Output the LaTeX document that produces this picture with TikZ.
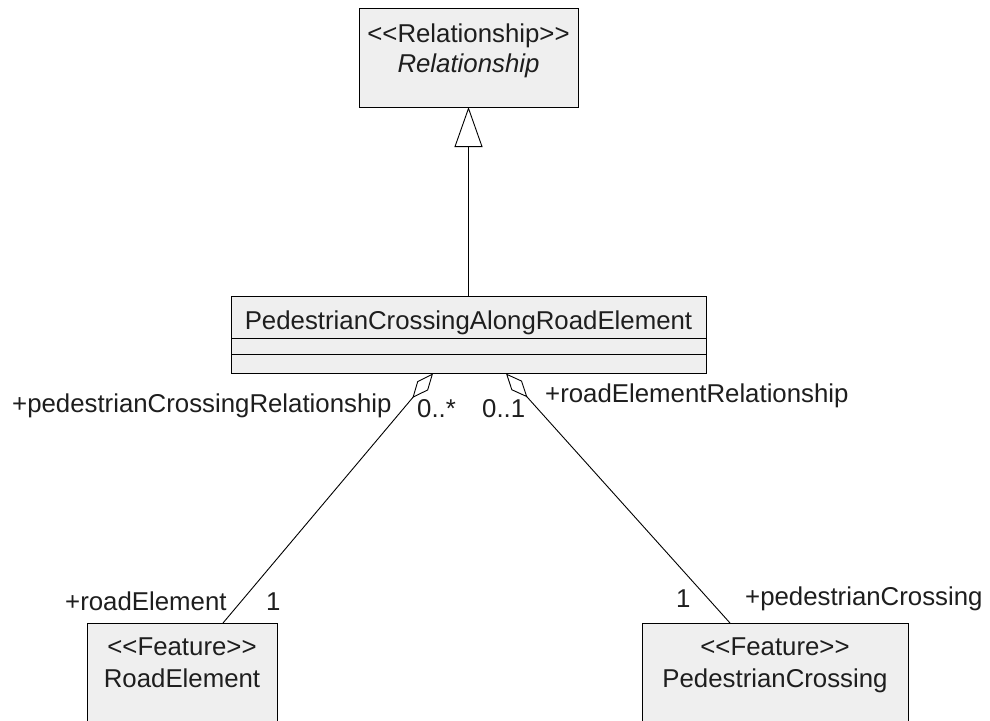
\documentclass[tikz,border=0pt]{standalone}
\usepackage{fontspec}
\setmainfont{Liberation Sans}[Ligatures=TeXOff]
\usetikzlibrary{arrows.meta}
\definecolor{boxfill}{HTML}{EFEFEF}
\definecolor{ink}{HTML}{1E1E1E}
\begin{document}
\begin{tikzpicture}[x=1pt,y=-1pt,
  umlbox/.style={draw=black, fill=boxfill, line width=1pt, inner sep=0pt, outer sep=0pt},
  lbl/.style={font=\fontsize{25.8}{30}\selectfont, text=ink, inner sep=0pt, anchor=base west},
  ctr/.style={font=\fontsize{25.8}{30}\selectfont, text=ink, inner sep=0pt, anchor=base},
  conn/.style={line width=0.9pt, draw=black}]
\clip (0,0) rectangle (990,720);
\fill[white] (0,0) rectangle (990,720);
% boxes
\node[umlbox, minimum width=219pt, minimum height=99pt] (rel) at (468.5,57.5) {};
\node[ctr] (relst) at (468.5,42) {<<Relationship>>};
\node[ctr] (relnm) at (468.5,72) {\itshape Relationship};

\node[umlbox, minimum width=475pt, minimum height=77.5pt] (mid) at (468.5,334.75) {};
\node[ctr] (midnm) at (468.5,329) {PedestrianCrossingAlongRoadElement};
\draw[line width=1pt] (231,338.3) -- (706,338.3);
\draw[line width=1pt] (231,354.3) -- (706,354.3);

\node[umlbox, minimum width=190pt, minimum height=120pt] (road) at (182,683) {};
\node[ctr] (roadst) at (182,655) {<<Feature>>};
\node[ctr] (roadnm) at (182,687) {RoadElement};

\node[umlbox, minimum width=266pt, minimum height=120pt] (ped) at (775,683) {};
\node[ctr] (pedst) at (775,655) {<<Feature>>};
\node[ctr] (pednm) at (775,687) {PedestrianCrossing};

% generalization
\draw[conn, -{Triangle[open, length=40pt, width=28pt, line width=0.9pt]}] (mid.north) -- (rel.south);

% aggregations
\coordinate (a1) at (433,373.5);
\coordinate (a1e) at (223,623);
\coordinate (a2) at (506,373.5);
\coordinate (a2e) at (730,623);
\draw[conn, -{Diamond[open, length=32pt, width=14pt, line width=0.9pt]}] (a1e) -- (a1);
\draw[conn, -{Diamond[open, length=32pt, width=14pt, line width=0.9pt]}] (a2e) -- (a2);

% labels
\node[lbl] (l1) at (12,412) {+pedestrianCrossingRelationship};
\node[lbl] (m1) at (417,417) {0..*};
\node[lbl] (m2) at (482,417) {0..1};
\node[lbl] (l2) at (545,402) {+roadElementRelationship};
\node[lbl] (l3) at (65,610) {+roadElement};
\node[lbl] (m3) at (266,610) {1};
\node[lbl] (m4) at (676,607) {1};
\node[lbl] (l4) at (745,605) {+pedestrianCrossing};
\end{tikzpicture}
\end{document}
